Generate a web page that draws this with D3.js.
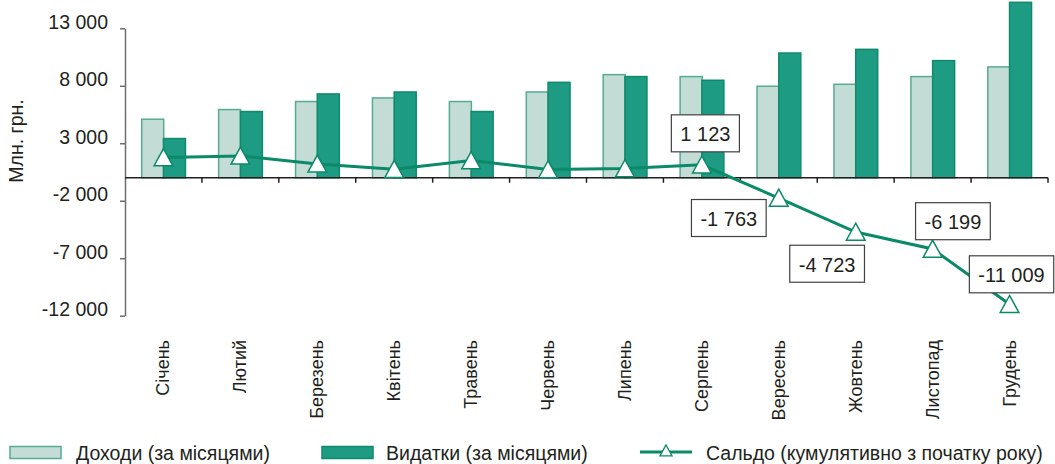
<!DOCTYPE html>
<html><head><meta charset="utf-8">
<script src="https://cdn.jsdelivr.net/npm/d3@7"></script>
<style>
body{margin:0;background:#fff;}
text{font-family:"Liberation Sans",Arial,sans-serif;fill:#231f20;}
</style></head>
<body><svg id="c" width="1055" height="464"></svg>
<script>
const months = ["Січень","Лютий","Березень","Квітень","Травень","Червень","Липень","Серпень","Вересень","Жовтень","Листопад","Грудень"];
const income = [5090,5930,6630,6940,6630,7460,8970,8800,7960,8130,8800,9640];
const spending = [3410,5760,7290,7460,5760,8300,8800,8480,10850,11170,10190,15260];
const balance = [1760,1900,1200,740,1500,710,800,1123,-1763,-4723,-6199,-11009];
const labelled = [false,false,false,false,false,false,false,true,true,true,true,true];
const yTicks = [-12000,-7000,-2000,3000,8000,13000];
const seriesNames = ["Доходи (за місяцями)","Видатки (за місяцями)","Сальдо (кумулятивно з початку року)"];
const yTitle = "Млн. грн.";

// layout for callouts (offsets of box centre from point)
const calloutOffset = {7:[3.5,-31.5],8:[-50,20],9:[-28.6,31.7],10:[20.3,-27.8],11:[2,-30]};

const svg = d3.select("#c");
const C = {light:"#c3ddd6", lightStroke:"#55ab93", dark:"#1e9b83", darkStroke:"#0f8a6d", line:"#0a8a68"};

const x = d3.scaleBand().domain(months).range([125,1048]).paddingInner(0.415).paddingOuter(0.2075);
const y = d3.scaleLinear().domain([-12000,13000]).range([315.7,28.3]);
const sub = d3.scaleBand().domain([0,1]).range([0,x.bandwidth()]);
const loc = d3.formatLocale({decimal:",",thousands:" ",grouping:[3],currency:["",""],minus:"-"});
const fmt = loc.format(",d");

// bars
const g = svg.append("g");
g.selectAll("rect.inc").data(months).join("rect")
  .attr("x",d=>x(d)+sub(0)+0.75).attr("width",sub.bandwidth()-0.5)
  .attr("y",(d,i)=>y(income[i])).attr("height",(d,i)=>y(0)-y(income[i]))
  .attr("fill",C.light).attr("stroke",C.lightStroke).attr("stroke-width",1.5);
g.selectAll("rect.sp").data(months).join("rect")
  .attr("x",d=>x(d)+sub(1)).attr("width",sub.bandwidth()-0.5)
  .attr("y",(d,i)=>y(spending[i])).attr("height",(d,i)=>y(0)-y(spending[i]))
  .attr("fill",C.dark).attr("stroke",C.darkStroke).attr("stroke-width",1.5);

// y axis
const ya = svg.append("g").attr("transform","translate(125,0)")
  .call(d3.axisLeft(y).tickValues(yTicks).tickSize(5).tickSizeOuter(0).tickFormat(fmt));
ya.select(".domain").attr("stroke","#6d6e71").attr("stroke-width",1.5);
ya.selectAll(".tick line").attr("stroke","#6d6e71").attr("stroke-width",1.5);
ya.selectAll(".tick text").attr("x",-17).attr("dy","-0.0em").attr("font-size","19.5px")
  .attr("font-family","'Liberation Sans',Arial,sans-serif").attr("fill","#231f20");

// x axis at zero
const y0 = y(0);
const step = x.step();
const xa = svg.append("g");
xa.append("line").attr("x1",125).attr("x2",1048).attr("y1",y0).attr("y2",y0).attr("stroke","#231f20").attr("stroke-width",1.5);
months.forEach((m,i)=>{
  const tx = x(m)-x.paddingOuter()*step + step;
  xa.append("line").attr("x1",tx).attr("x2",tx).attr("y1",y0).attr("y2",y0+5).attr("stroke","#231f20").attr("stroke-width",1.5);
});
svg.append("g").selectAll("text").data(months).join("text")
  .attr("transform",d=>`translate(${x(d)+x.bandwidth()/2+6},340) rotate(-90)`)
  .attr("text-anchor","end").attr("font-size","18px").text(d=>d);

// y title
svg.append("text").attr("transform","translate(23,141) rotate(-90)").attr("text-anchor","middle")
  .attr("font-size","19.5px").text(yTitle);

// line
const cx = i => x(months[i]) + x.bandwidth()/2;
svg.append("path").datum(balance)
  .attr("d", d3.line().x((d,i)=>cx(i)).y(d=>y(d)))
  .attr("fill","none").attr("stroke",C.line).attr("stroke-width",3);
const tri = (s)=>`M0,${-s*0.55} L${s*0.55},${s*0.45} L${-s*0.55},${s*0.45} Z`;
svg.append("g").selectAll("path").data(balance).join("path")
  .attr("transform",(d,i)=>`translate(${cx(i)},${y(d)+0.5})`)
  .attr("d",tri(17)).attr("fill","#fff").attr("stroke",C.line).attr("stroke-width",1.5);

// callouts
balance.forEach((v,i)=>{
  if(!labelled[i]) return;
  const [dx,dy] = calloutOffset[i];
  const px = cx(i)+dx, py = y(v)+dy;
  const cg = svg.append("g");
  const r = cg.append("rect");
  const t = cg.append("text").attr("x",px).attr("y",py+1).attr("text-anchor","middle")
    .attr("dominant-baseline","central").attr("font-size","20px").text(fmt(v));
  const w = t.node().getComputedTextLength()+18;
  r.attr("x",px-w/2).attr("y",py-18.5).attr("width",w).attr("height",37)
    .attr("fill","#fff").attr("stroke","#414042").attr("stroke-width",1.2);
});

// legend
const lg = svg.append("g");
lg.append("rect").attr("x",10).attr("y",446.5).attr("width",51).attr("height",12)
  .attr("fill",C.light).attr("stroke",C.lightStroke).attr("stroke-width",1.5);
lg.append("text").attr("x",76).attr("y",453).attr("dominant-baseline","central").attr("font-size","19.5px").text(seriesNames[0]);
lg.append("rect").attr("x",322).attr("y",446.5).attr("width",51).attr("height",12)
  .attr("fill",C.dark).attr("stroke",C.darkStroke).attr("stroke-width",1.5);
lg.append("text").attr("x",386).attr("y",453).attr("dominant-baseline","central").attr("font-size","19.5px").text(seriesNames[1]);
lg.append("line").attr("x1",640).attr("x2",692).attr("y1",452).attr("y2",452).attr("stroke",C.line).attr("stroke-width",3);
lg.append("path").attr("transform","translate(666,451)").attr("d",tri(11)).attr("fill","#fff").attr("stroke",C.line).attr("stroke-width",1.3);
lg.append("text").attr("x",706).attr("y",453).attr("dominant-baseline","central").attr("font-size","19.5px").text(seriesNames[2]);
</script></body></html>
